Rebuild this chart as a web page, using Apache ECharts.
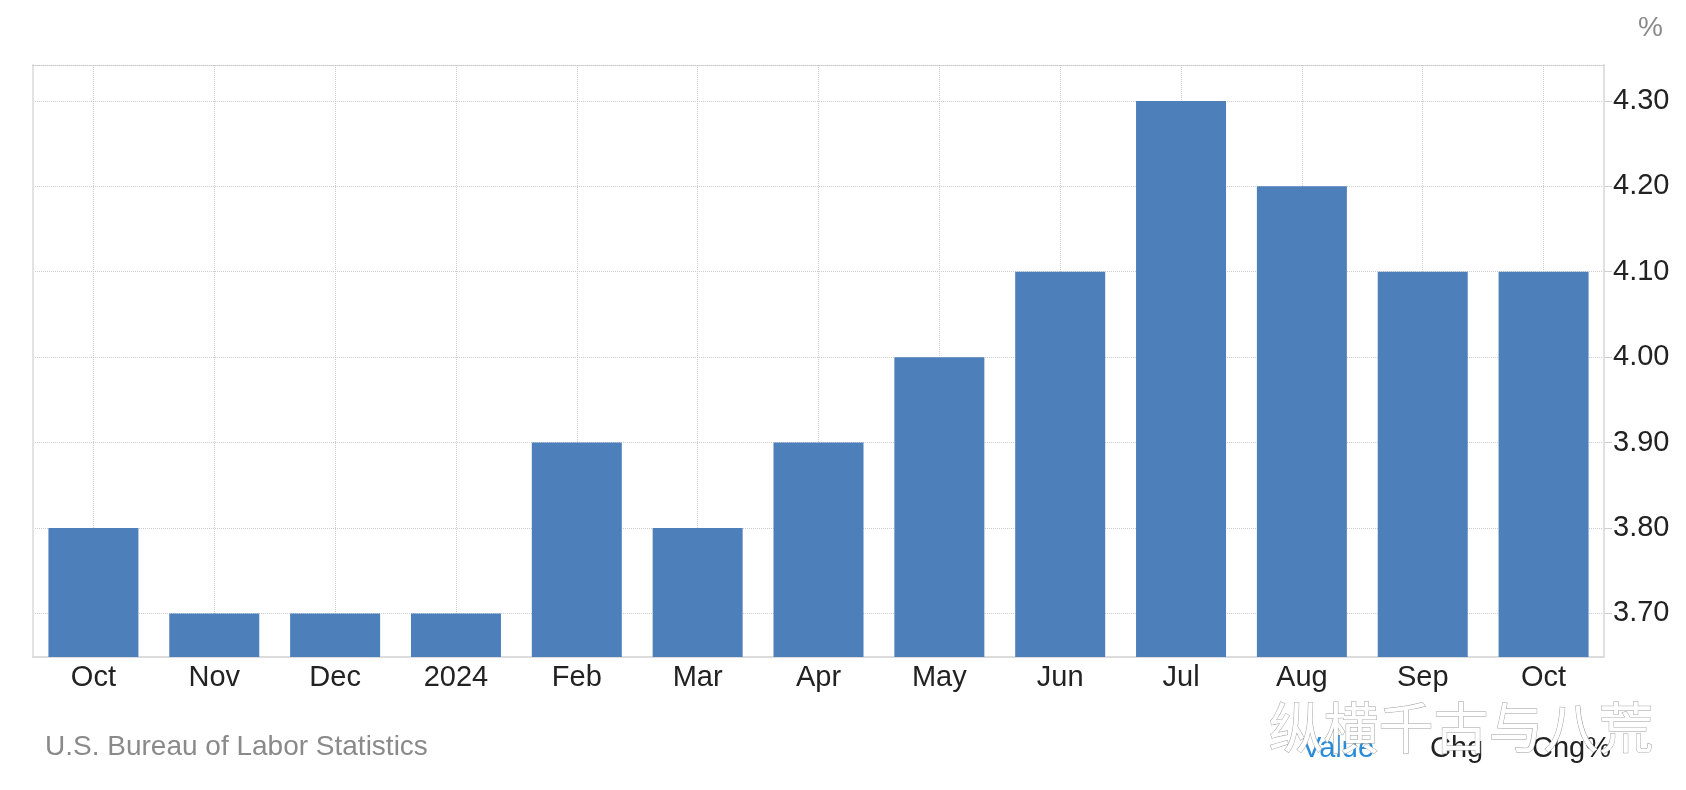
<!DOCTYPE html>
<html><head><meta charset="utf-8">
<script src="https://cdn.jsdelivr.net/npm/echarts@6/dist/echarts.min.js"></script>
<style>html,body{margin:0;padding:0;background:#fff}#c{width:1686px;height:790px}</style>
</head><body><div id="c"></div>
<script>
const categories = ['Oct', 'Nov', 'Dec', '2024', 'Feb', 'Mar', 'Apr', 'May', 'Jun', 'Jul', 'Aug', 'Sep', 'Oct'];
const values = [3.8, 3.7, 3.7, 3.7, 3.9, 3.8, 3.9, 4.0, 4.1, 4.3, 4.2, 4.1, 4.1];
const yTicks = [3.7, 3.8, 3.9, 4.0, 4.1, 4.2, 4.3];
const yMin = 3.649;
const yMax = 4.342;
const sourceText = 'U.S. Bureau of Labor Statistics';
const unitText = '%';
const tabs = ['Value', 'Chg', 'Chg%'];
const watermark = '纵横千古与八荒';

const FONT = '"Liberation Sans", Arial, Helvetica, sans-serif';
const chart = echarts.init(document.getElementById('c'), null, {renderer: 'canvas'});
chart.setOption({
  animation: false,
  backgroundColor: '#ffffff',
  grid: {left: 33, right: 82, top: 65, bottom: 133, containLabel: false},
  xAxis: [{
    type: 'category',
    data: categories,
    boundaryGap: true,
    axisLine: {show: true, lineStyle: {color: '#dcdcdc', width: 2}},
    axisTick: {show: false},
    axisLabel: {color: '#222222', fontSize: 29, fontFamily: FONT, margin: 6, interval: 0},
    splitLine: {show: true, alignWithLabel: true, lineStyle: {color: '#cccccc', type: 'dotted', width: 1}}
  }, {
    type: 'category',
    data: categories,
    position: 'top',
    axisLine: {show: true, lineStyle: {color: '#c8c8c8', type: 'dotted', width: 1}},
    axisTick: {show: false},
    axisLabel: {show: false},
    splitLine: {show: false}
  }],
  yAxis: [{
    type: 'value',
    position: 'right',
    min: yMin,
    max: yMax,
    axisLine: {show: true, lineStyle: {color: '#e0e0e0', width: 2}},
    axisTick: {show: true, customValues: yTicks, length: 8, inside: false, lineStyle: {color: '#cfcfcf', width: 1}},
    axisLabel: {customValues: yTicks, color: '#222222', fontSize: 29, fontFamily: FONT, margin: 9,
      formatter: v => v.toFixed(2)},
    splitLine: {show: true, lineStyle: {color: '#cccccc', type: 'dotted', width: 1}}
  }, {
    type: 'value',
    position: 'left',
    min: yMin,
    max: yMax,
    axisLine: {show: true, lineStyle: {color: '#e3e3e3', width: 2}},
    axisTick: {show: false},
    axisLabel: {show: false},
    splitLine: {show: false}
  }],
  series: [{
    type: 'bar',
    data: values,
    xAxisIndex: 0,
    yAxisIndex: 0,
    barWidth: 90,
    itemStyle: {color: '#4d7fba'},
    z: 3
  }],
  graphic: [
    {type: 'text', left: 45, top: 733, style: {text: sourceText, font: '28px ' + FONT, fill: '#8a8a8a'}},
    {type: 'text', left: 1638, top: 14, style: {text: unitText, font: '28px ' + FONT, fill: '#8a8a8a'}},
    {type: 'text', left: 1302, top: 734, style: {text: tabs[0], font: '29px ' + FONT, fill: '#2a8bd8'}},
    {type: 'text', left: 1430, top: 734, style: {text: tabs[1], font: '29px ' + FONT, fill: '#222222'}},
    {type: 'text', left: 1532, top: 734, style: {text: tabs[2], font: '29px ' + FONT, fill: '#222222'}},
    {type: 'text', left: 1268, top: 699, z: 100, style: {text: watermark, font: '55px "Noto Sans CJK SC"', fill: '#ffffff', stroke: '#a0a0a0', lineWidth: 1}}
  ]
});
</script>
</body></html>
